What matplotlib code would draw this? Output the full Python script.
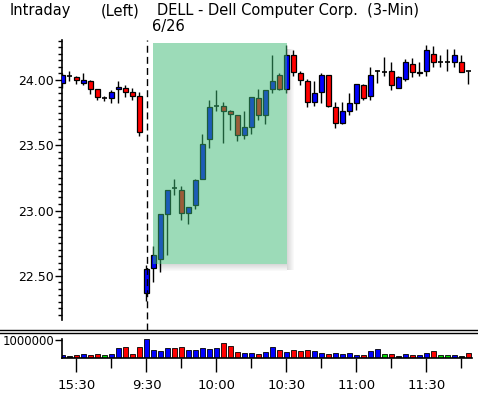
import numpy as np
import matplotlib
matplotlib.use("Agg")
import matplotlib.pyplot as plt
from matplotlib.patches import Rectangle

# 3-min bars: last 12 of 6/25, then 6/26 from 9:30
times = ["15:24", "15:27", "15:30", "15:33", "15:36", "15:39", "15:42", "15:45",
         "15:48", "15:51", "15:54", "15:57"]
t = 9 * 60 + 30
while len(times) < 59:
    times.append("%d:%02d" % (t // 60, t % 60))
    t += 3

opens = [23.98, 24.03, 24.02, 23.98, 23.99, 23.93, 23.86, 23.86, 23.93, 23.94,
         23.91, 23.88, 22.37, 22.56, 22.63, 22.97, 23.17, 23.16, 22.98, 23.04,
         23.24, 23.55, 23.80, 23.80, 23.76, 23.73, 23.58, 23.64, 23.86, 23.73,
         23.93, 24.04, 23.93, 24.19, 24.05, 23.99, 23.83, 23.91, 24.04, 23.79,
         23.67, 23.76, 23.82, 23.96, 23.88, 24.07, 24.06, 24.07, 23.94, 24.01,
         24.12, 24.05, 24.07, 24.20, 24.14, 24.14, 24.14, 24.14, 24.07]
highs = [24.05, 24.07, 24.03, 24.05, 24.00, 23.93, 23.88, 23.92, 23.99, 23.96,
         23.94, 23.91, 22.58, 22.73, 22.97, 23.16, 23.24, 23.19, 23.03, 23.24,
         23.59, 23.85, 23.92, 23.83, 23.77, 23.73, 23.76, 23.87, 23.93, 23.92,
         24.19, 24.05, 24.27, 24.23, 24.07, 24.01, 23.99, 24.05, 24.04, 23.83,
         23.83, 23.90, 23.97, 23.97, 24.10, 24.08, 24.18, 24.14, 24.03, 24.16,
         24.17, 24.14, 24.27, 24.26, 24.19, 24.24, 24.24, 24.19, 24.07]
lows = [23.94, 23.99, 23.97, 23.96, 23.89, 23.85, 23.84, 23.82, 23.82, 23.87,
        23.85, 23.57, 22.31, 22.45, 22.53, 22.66, 23.12, 22.93, 22.90, 23.01,
        23.24, 23.48, 23.76, 23.52, 23.62, 23.53, 23.55, 23.59, 23.69, 23.66,
        23.90, 23.92, 23.90, 24.03, 23.96, 23.79, 23.80, 23.82, 23.79, 23.63,
        23.66, 23.73, 23.77, 23.85, 23.85, 23.98, 24.03, 23.92, 23.94, 23.99,
        24.02, 24.03, 24.03, 24.10, 24.10, 24.07, 24.10, 24.06, 23.97]
closes = [24.04, 24.03, 24.00, 24.00, 23.93, 23.87, 23.86, 23.91, 23.95, 23.91,
          23.88, 23.60, 22.55, 22.66, 22.97, 23.16, 23.17, 22.98, 23.03, 23.23,
          23.51, 23.79, 23.80, 23.76, 23.74, 23.58, 23.64, 23.87, 23.73, 23.92,
          23.99, 23.93, 24.19, 24.06, 24.00, 23.83, 23.90, 24.04, 23.80, 23.67,
          23.76, 23.82, 23.97, 23.86, 24.04, 24.07, 24.06, 23.96, 24.02, 24.14,
          24.06, 24.06, 24.23, 24.14, 24.14, 24.14, 24.19, 24.06, 24.07]

volume = [0.17, 0.13, 0.17, 0.22, 0.17, 0.22, 0.17, 0.22, 0.56, 0.61,
          0.22, 0.61, 1.06, 0.44, 0.39, 0.56, 0.56, 0.61, 0.44, 0.44,
          0.56, 0.50, 0.56, 0.83, 0.67, 0.33, 0.28, 0.28, 0.22, 0.33,
          0.61, 0.44, 0.33, 0.44, 0.39, 0.44, 0.39, 0.28, 0.22, 0.28,
          0.22, 0.28, 0.17, 0.17, 0.39, 0.50, 0.22, 0.22, 0.11, 0.22,
          0.17, 0.17, 0.28, 0.39, 0.17, 0.17, 0.17, 0.11, 0.28]
volume = [v * 1e6 for v in volume]
# u = up, d = down, n = unchanged, x = flat
vol_dir = list("uxduddnuudddu" "uuudduuuuu" "ddduuduudu" "ddduuduuuu"
               "duundxuduu" "dnnuxd")

shade_x = (12.9, 32.1)
shade_y = (22.59, 24.28)

plt.rcParams['font.family'] = ['DejaVu Sans']
fs = 9

W, H = 478, 394
fig = plt.figure(figsize=(W / 100, H / 100), dpi=100)

ax = fig.add_axes([62 / W, 1 - 320 / H, (W - 62) / W, 280 / H])
axv = fig.add_axes([62 / W, 1 - 358.3 / H, (472 - 62) / W, 19.8 / H])

x = np.arange(len(opens))
up_c, dn_c = "#0000ff", "#ff0000"
bw = 0.66
for i in x:
    o, h, l, c = opens[i], highs[i], lows[i], closes[i]
    ax.vlines(i, l, h, color="black", lw=1.0, zorder=2)
    if o == c:
        ax.hlines(c, i - 0.36, i + 0.36, color="black", lw=1.2, zorder=3)
    else:
        col = up_c if c > o else dn_c
        ax.add_patch(Rectangle((i - bw / 2, min(o, c)), bw, abs(c - o),
                               facecolor=col, edgecolor="black", lw=0.9, zorder=3))

# highlighted region with a soft shadow
px_x, px_y = 1 / 7, 1 / 130.5
(x0, x1), (y0, y1) = shade_x, shade_y
for k in range(7):
    a = 0.22 * (1 - k / 7)
    ax.add_patch(Rectangle((x1 + k * px_x, y0 - 6 * px_y), px_x, (y1 - y0),
                           facecolor="#555555", alpha=a, lw=0, zorder=1))
    ax.add_patch(Rectangle((x0 + 5 * px_x, y0 - (k + 1) * px_y), (x1 - x0) - 5 * px_x, px_y,
                           facecolor="#555555", alpha=a, lw=0, zorder=1))
ax.add_patch(Rectangle((x0, y0), x1 - x0, y1 - y0, facecolor="#3bb973",
                       alpha=0.5, lw=0, zorder=4))

ax.set_xlim(-0.07, (W - 62.5) / 7)
ax.set_ylim(22.161, 24.3065)
for s in ["top", "right", "bottom"]:
    ax.spines[s].set_visible(False)
ax.spines["left"].set_linewidth(1.2)
ax.set_xticks([])
ax.set_yticks([22.5, 23.0, 23.5, 24.0])
ax.set_yticklabels(["22.50", "23.00", "23.50", "24.00"], fontsize=fs)
ax.set_yticks(np.arange(22.20, 24.31, 0.05), minor=True)
ax.tick_params(axis="y", which="major", length=5, width=1, pad=1)
ax.tick_params(axis="y", which="minor", length=3, width=1)

# session break
ax.axvline(12.07, ymin=-0.036, ymax=1, color="black", lw=1, ls=(0, (5, 3)),
           clip_on=False, zorder=5)

# volume
vcols = {"u": "#0000ff", "d": "#ff0000", "n": "#00dd00", "x": "#111111"}
axv.bar(x, volume, width=0.7, color=[vcols[d] for d in vol_dir],
        edgecolor="black", lw=0.6)
axv.set_xlim(-0.07, (472 - 62.5) / 7)
axv.set_ylim(0, 1.1e6)
axv.spines["top"].set_visible(False)
axv.spines["right"].set_visible(False)
axv.spines["left"].set_linewidth(1.2)
axv.spines["bottom"].set_linewidth(1.2)
axv.set_yticks([1e6])
axv.set_yticklabels(["1000000"], fontsize=8.4)
axv.tick_params(axis="y", length=5, width=1, pad=0.5)
major = [i for i, s in enumerate(times) if s.endswith(":30") or s.endswith(":00")]
minor = [i for i, s in enumerate(times) if s.endswith(":15") or s.endswith(":45")]
axv.set_xticks(major)
axv.set_xticklabels([times[i] for i in major], fontsize=9.5)
axv.set_xticks(minor, minor=True)
axv.tick_params(axis="x", which="major", length=10, width=1, pad=5)
axv.tick_params(axis="x", which="minor", length=7, width=1)

# double separator line
for yy in (329.5, 332.5):
    fig.add_artist(plt.Line2D([0, 1], [1 - yy / H] * 2, color="black", lw=1.0))

tfs = 10.5
fig.text(10 / W, 1 - 11 / H, "Intraday", fontsize=tfs, va="center", ha="left")
fig.text(101 / W, 1 - 11 / H, "(Left)", fontsize=tfs, va="center", ha="left")
fig.text(157 / W, 1 - 11 / H, "DELL - Dell Computer Corp.  (3-Min)", fontsize=tfs,
         va="center", ha="left")
fig.text(152 / W, 1 - 27 / H, "6/26", fontsize=tfs, va="center", ha="left")

fig.savefig("out.png", dpi=100)
